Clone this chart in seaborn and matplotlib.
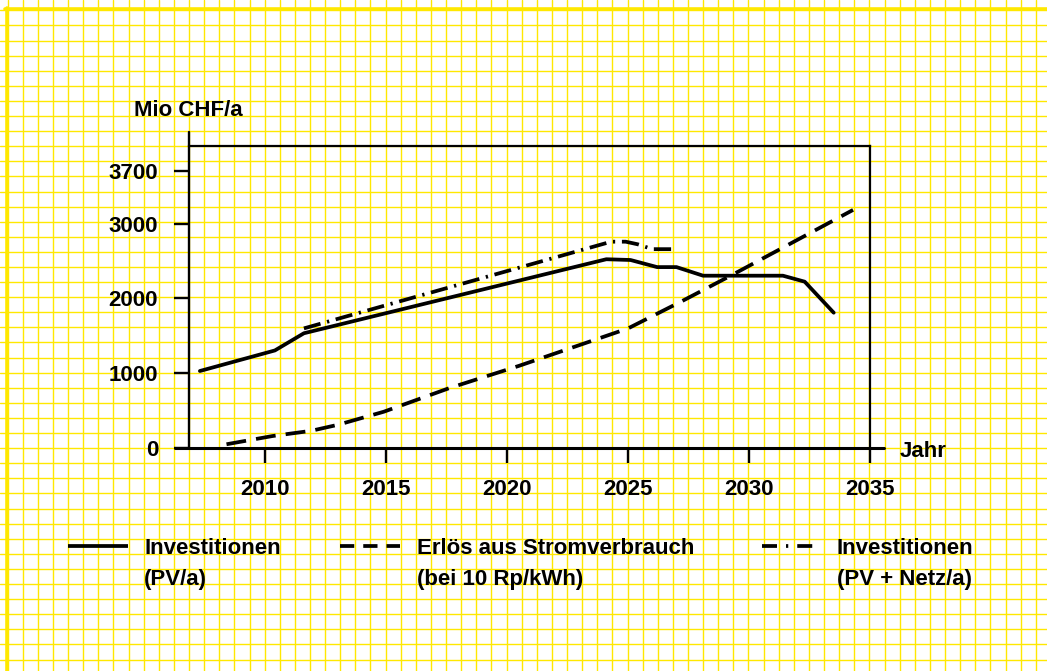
import numpy as np
import pandas as pd
import matplotlib
matplotlib.use('Agg')
import matplotlib.pyplot as plt
import seaborn as sns

# Werte (Mio CHF/a)
jahr_pv = [2007.3, 2010.4, 2011.6, 2024.1, 2025.1, 2026.2, 2027.0, 2028.1, 2031.4, 2032.3, 2033.5]
inv_pv = [1030, 1305, 1535, 2525, 2515, 2420, 2420, 2305, 2305, 2225, 1810]

jahr_erloes = [2008.4, 2010.3, 2011.9, 2013.0, 2014.9, 2017.6, 2020.5, 2025.0, 2027.2, 2029.3, 2034.3]
erloes = [50, 160, 230, 310, 485, 800, 1100, 1600, 1960, 2315, 3185]

jahr_netz = [2011.6, 2024.3, 2024.9, 2025.4, 2026.0, 2027.0]
inv_netz = [1600, 2760, 2760, 2725, 2660, 2660]

serien = ['Investitionen\n(PV/a)', 'Erlös aus Stromverbrauch\n(bei 10 Rp/kWh)',
          'Investitionen\n(PV + Netz/a)']
x_ticks = [2010, 2015, 2020, 2025, 2030, 2035]
y_ticks = [0, 1000, 2000, 3000, 3700]

df = pd.concat([
    pd.DataFrame({'Jahr': jahr_pv, 'Wert': inv_pv, 'Reihe': serien[0]}),
    pd.DataFrame({'Jahr': jahr_erloes, 'Wert': erloes, 'Reihe': serien[1]}),
    pd.DataFrame({'Jahr': jahr_netz, 'Wert': inv_netz, 'Reihe': serien[2]}),
], ignore_index=True)

sns.set_style('white')
plt.rcParams['font.family'] = ['Liberation Sans', 'DejaVu Sans']
plt.rcParams['font.weight'] = 'bold'
plt.rcParams['text.color'] = 'black'

W, H = 1047, 671
FS = 16
LW = 2.7
gelb = '#FFE800'
fig = plt.figure(figsize=(W / 100, H / 100), dpi=100, facecolor='white')

# Millimeterpapier-Hintergrund (Pixelkoordinaten)
bg = fig.add_axes([0, 0, 1, 1], zorder=-1)
bg.set_xlim(0, W); bg.set_ylim(H, 0); bg.axis('off')
for x in np.arange(7.6, W, 15.12):
    bg.axvline(x, color=gelb, lw=1.0)
for y in np.arange(10.3, H, 15.1):
    bg.axhline(y, color=gelb, lw=1.0)
bg.plot([6.5, 6.5], [8, H], color=gelb, lw=2.6)
bg.plot([5, W], [9, 9], color=gelb, lw=2.6)

# Hauptdiagramm
ax = fig.add_axes([189 / W, 1 - 448 / H, 681 / W, 302 / H])
ax.set_facecolor('none')
dashes = {serien[0]: '', serien[1]: (5.3, 2.7), serien[2]: (4.6, 1.8, 0.6, 1.8)}
sns.lineplot(data=df, x='Jahr', y='Wert', style='Reihe', dashes=dashes, color='black',
             estimator=None, sort=False, legend=False, lw=LW, ax=ax)

x0, x1 = 2006.85, 2035
ax.set_xlim(x0, x1); ax.set_ylim(0, 4040)
ax.set_xlabel(''); ax.set_ylabel('')
for s in ['left', 'bottom']:
    ax.spines[s].set_visible(False)
for s in ['top', 'right']:
    ax.spines[s].set_color('black'); ax.spines[s].set_linewidth(1.6)
ax.axhline(0, xmin=-14 / 681, xmax=1 + 14 / 681, clip_on=False, color='black', lw=2.2)
ax.axvline(x0, ymin=0, ymax=1 + 14 / 302, clip_on=False, color='black', lw=1.7)

ax.set_xticks(x_ticks); ax.set_yticks(y_ticks)
ax.set_xticklabels([str(t) for t in x_ticks]); ax.set_yticklabels([str(t) for t in y_ticks])
ax.tick_params(axis='both', direction='out', length=10.8, width=1.7, colors='black',
               labelcolor='black', labelsize=FS, bottom=True, left=True)
ax.tick_params(axis='x', pad=11.5)
ax.tick_params(axis='y', pad=11.5)

bg.text(134, 116, 'Mio CHF/a', fontsize=FS, fontweight='bold', va='baseline', ha='left')
bg.text(900, 457, 'Jahr', fontsize=FS, fontweight='bold', va='baseline', ha='left')

# Legende
leg_linie = [(68, 128), (340, 400), (762, 820)]
leg_text_x = [144, 417, 837]
leg_dashes = ['', (3.8, 2.4), (4.0, 2.4, 0.6, 2.4)]
for (a, b), tx, d, name in zip(leg_linie, leg_text_x, leg_dashes, serien):
    ln, = bg.plot([a, b], [546, 546], color='black', lw=LW, solid_capstyle='butt')
    if d:
        ln.set_dashes(d)
    z1, z2 = name.split('\n')
    bg.text(tx, 554, z1, fontsize=FS, fontweight='bold', va='baseline', ha='left')
    bg.text(tx, 585, z2, fontsize=FS, fontweight='bold', va='baseline', ha='left')

fig.savefig('out.png', dpi=100)
